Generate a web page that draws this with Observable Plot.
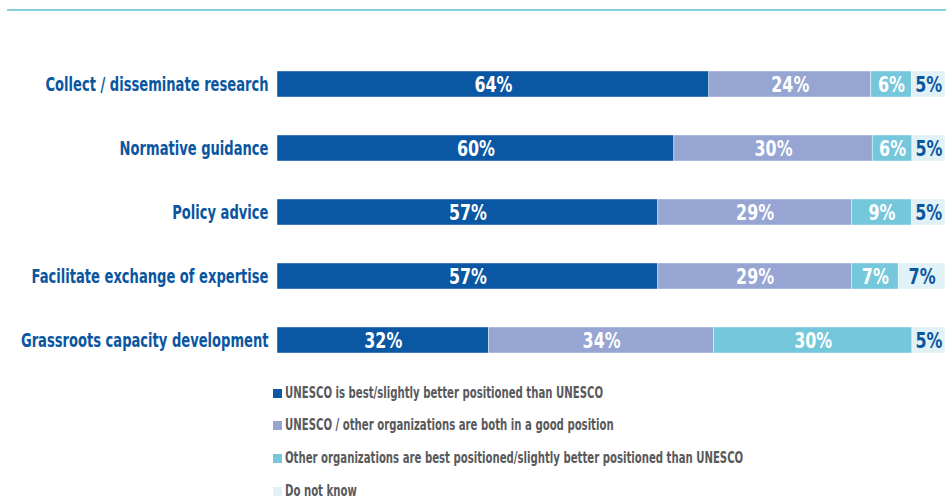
<!DOCTYPE html>
<html>
<head>
<meta charset="utf-8">
<script src="https://cdn.jsdelivr.net/npm/d3@7"></script>
<script src="https://cdn.jsdelivr.net/npm/@observablehq/plot@0.6"></script>
<style>
  html, body { margin: 0; padding: 0; background: #fff; }
  body { width: 946px; height: 500px; position: relative; overflow: hidden;
         font-family: "DejaVu Sans Condensed", "Liberation Sans Narrow", "Liberation Sans", sans-serif; }
  #topline { position: absolute; left: 7px; top: 9px; width: 939px; height: 2px; background: #86cfe0; }
  #chart { position: absolute; left: 0; top: 0; }
  #legend { position: absolute; left: 273px; top: 383px; }
  .item { position: absolute; left: 0; white-space: nowrap; height: 20px; line-height: 20px;
          font-size: 16px; font-weight: bold; color: #58595b; }
  .sw { display: inline-block; width: 9px; height: 9px; margin-right: 3px; vertical-align: 0px; }
  .lt { display: inline-block; transform-origin: 0 50%; }
</style>
</head>
<body>
<div id="topline"></div>
<div id="chart"></div>
<div id="legend"></div>
<script>
const categories = [
  "Collect / disseminate research",
  "Normative guidance",
  "Policy advice",
  "Facilitate exchange of expertise",
  "Grassroots capacity development"
];
const seriesNames = [
  "UNESCO is best/slightly better positioned than UNESCO",
  "UNESCO / other organizations are both in a good position",
  "Other organizations are best positioned/slightly better positioned than UNESCO",
  "Do not know"
];
const best     = [64, 60, 57, 57, 32];
const both     = [24, 30, 29, 29, 34];
const other    = [6, 6, 9, 7, 30];
const dontKnow = [5, 5, 5, 7, 5];
const colors = ["#0a57a4", "#97a5d3", "#75c8dc", "#e0f1f7"];
const labelColors = ["#ffffff", "#ffffff", "#ffffff", "#0a56a0"];

const seriesValues = [best, both, other, dontKnow];
const table = [];
categories.forEach((c, i) => {
  seriesNames.forEach((s, j) => {
    table.push({category: c, series: s, value: seriesValues[j][i], idx: j});
  });
});

const font = '"DejaVu Sans Condensed", "Liberation Sans Narrow", "Liberation Sans", sans-serif';

const chart = Plot.plot({
  width: 946,
  height: 374,
  marginLeft: 277,
  marginRight: 1,
  marginTop: 52,
  marginBottom: 2,
  style: {fontFamily: font, background: "transparent"},
  x: {axis: null, domain: [0, 1]},
  y: {domain: categories, range: [52, 372], paddingInner: 0.594, paddingOuter: 0.297, label: null},
  color: {domain: seriesNames, range: colors},
  marks: [
    Plot.barX(table, Plot.stackX({
      x: "value", y: "category", z: "series", fill: "series",
      order: seriesNames, offset: "normalize",
      stroke: "#ffffff", strokeWidth: 0.6, strokeOpacity: 0.7
    })),
    Plot.text(table, Plot.stackX({
      x: "value", y: "category", z: "series",
      order: seriesNames, offset: "normalize",
      text: d => d.value + "%",
      fill: d => labelColors[d.idx],
      fontSize: 22, fontWeight: "bold", fontFamily: font,
      className: "vals"
    })),
    Plot.axisY({
      tickSize: 0, tickPadding: 9, fontSize: 19, fontWeight: "bold",
      fill: "#0a56a0", fontFamily: font, label: null, className: "ylab"
    })
  ]
});
document.getElementById("chart").appendChild(chart);

// condense text horizontally to match the reference's condensed typeface
function condense(nodes, factor) {
  nodes.forEach(t => {
    const L = t.getComputedTextLength();
    t.setAttribute("textLength", (L * factor).toFixed(1));
    t.setAttribute("lengthAdjust", "spacingAndGlyphs");
  });
}
const yTexts = Array.from(chart.querySelectorAll(".ylab text"));
const first = yTexts.find(t => t.textContent === categories[0]);
const yFactor = first ? 223 / first.getComputedTextLength() : 0.78;
condense(yTexts, yFactor);
const vTexts = Array.from(chart.querySelectorAll(".vals text"));
const v24 = vTexts.find(t => t.textContent === "24%");
const vFactor = v24 ? 38 / v24.getComputedTextLength() : 0.9;
condense(vTexts, vFactor);

const legend = document.getElementById("legend");
const tops = [0, 32, 65, 98];
const spans = [];
seriesNames.forEach((s, j) => {
  const it = document.createElement("div");
  it.className = "item";
  it.style.top = tops[j] + "px";
  const sw = document.createElement("span");
  sw.className = "sw";
  sw.style.background = colors[j];
  it.appendChild(sw);
  const lt = document.createElement("span");
  lt.className = "lt";
  lt.textContent = s;
  it.appendChild(lt);
  spans.push(lt);
  legend.appendChild(it);
});
const lFactor = 318 / spans[0].getBoundingClientRect().width;
spans.forEach(sp => { sp.style.transform = `scaleX(${lFactor})`; });
</script>
</body>
</html>
